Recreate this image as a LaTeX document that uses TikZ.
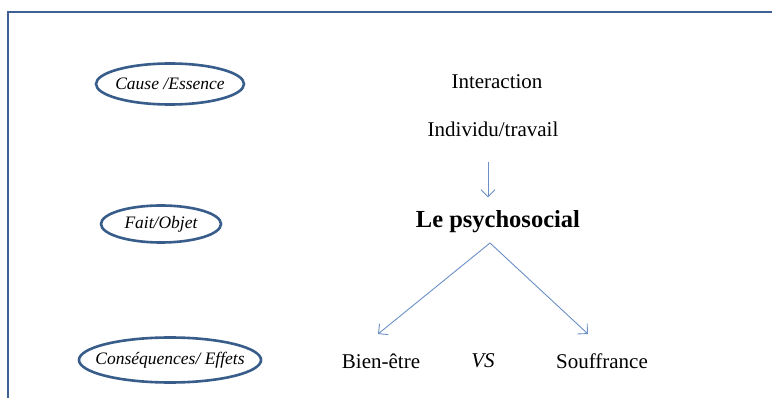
\documentclass[tikz,border=0pt]{standalone}
\usepackage{fontspec}
\setmainfont{Liberation Serif}
\usetikzlibrary{positioning}
\usetikzlibrary{arrows.meta}
\usetikzlibrary{shapes.geometric}

\definecolor{framebleu}{HTML}{3E6195}
\definecolor{ovalbleu}{HTML}{385D8A}
\definecolor{flechebleu}{HTML}{6B8FC6}

\tikzset{
  oval/.style={draw=ovalbleu, line width=2.6pt, ellipse, inner xsep=-14pt, inner ysep=-3pt, font=\fontsize{17.5}{19}\selectfont\itshape},
  terme/.style={font=\fontsize{21}{23}\selectfont},
  fleche/.style={-{Straight Barb[length=7pt,width=14pt]}, draw=flechebleu, line width=0.9pt}
}

\begin{document}
\begin{tikzpicture}[x=1pt, y=-1pt]
      \useasboundingbox (0,0) rectangle (772,398);
      \fill[white] (0,0) rectangle (772,398);

      % cadre
      \draw[framebleu, line width=2.6pt] (8,402) -- (8,12) -- (776,12);

      % colonne de gauche
      \node[oval, minimum width=148pt, minimum height=41pt] (cause) at (170,84) {Cause /Essence};
      \node[oval, minimum width=120pt, minimum height=37pt] (fait) at (161,224) {Fait/Objet};
      \node[oval, minimum width=182pt, minimum height=45pt] (consq) at (170,360) {Conséquences/ Effets};

      % colonne de droite
      \node[terme] (inter) at (497,82) {Interaction};
      \node[terme] (indiv) at (493,129) {Individu/travail};
      \node[font=\fontsize{24.5}{26}\selectfont\bfseries] (psy) at (498,222) {Le psychosocial};
      \node[terme] (bien) at (381,361) {Bien-être};
      \node[terme, font=\fontsize{21}{23}\selectfont\itshape] (vs) at (483,361) {VS};
      \node[terme] (souf) at (602,361) {Souffrance};

      \coordinate (sommet) at (490,243);
      \coordinate (versbien) at (378,334);
      \coordinate (verssouf) at (588,334);

      \draw[fleche] ([xshift=-5pt, yshift=-22pt]indiv.south) -- ([xshift=-10pt, yshift=10pt]psy.north);
      \draw[fleche] (sommet) -- (versbien);
      \draw[fleche] (sommet) -- (verssouf);

\end{tikzpicture}
\end{document}
